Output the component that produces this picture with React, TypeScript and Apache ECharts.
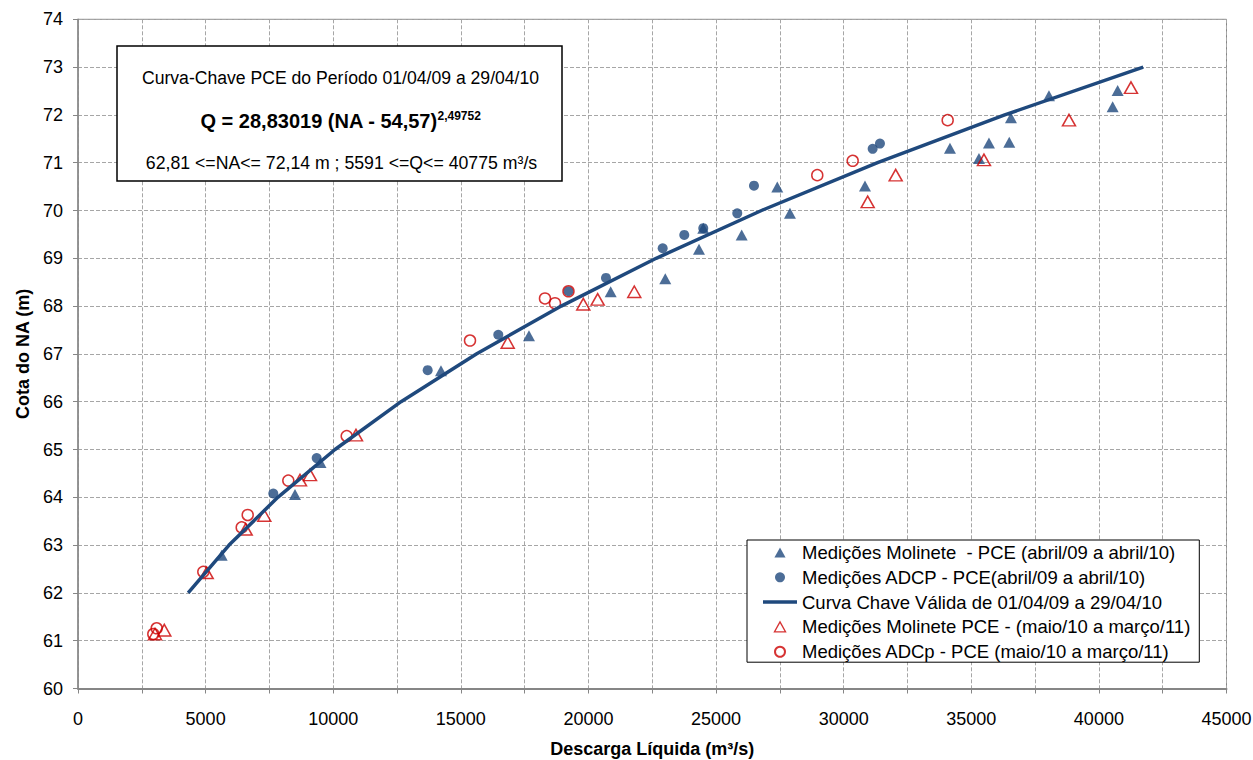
import React, { useEffect, useRef } from "react";
import * as echarts from "echarts";

const FONT = "'Liberation Sans', Arial, sans-serif";
const BLUE = "#1F497D";
const RED = "#CC0000";

// Medições Molinete - PCE (abril/09 a abril/10)
const molinete1Q = [5630, 8502, 9501, 14222, 17670, 20871, 23010, 24331, 24499, 26004, 27399, 27896, 30835, 34165, 35301, 35693, 36488, 36555, 38044, 40539, 40735];
const molinete1NA = [62.79, 64.06, 64.73, 66.65, 67.38, 68.3, 68.57, 69.19, 69.63, 69.49, 70.49, 69.94, 70.51, 71.3, 71.09, 71.41, 71.43, 71.94, 72.4, 72.17, 72.51];

// Medições ADCP - PCE (abril/09 a abril/10)
const adcp1Q = [7652, 9352, 13701, 16468, 19218, 20687, 22909, 23755, 24499, 25831, 26486, 31136, 31422];
const adcp1NA = [64.08, 64.82, 66.66, 67.4, 68.31, 68.59, 69.21, 69.49, 69.63, 69.94, 70.52, 71.29, 71.4];

// Medições Molinete PCE - (maio/10 a março/11)
const molinete2Q = [3017, 3381, 5042, 6570, 7299, 8698, 9090, 10892, 16836, 19798, 20362, 21796, 30941, 32038, 35497, 38828, 41257];
const molinete2NA = [61.14, 61.22, 62.42, 63.33, 63.62, 64.36, 64.47, 65.3, 67.24, 68.04, 68.14, 68.3, 70.18, 70.74, 71.06, 71.89, 72.57];

// Medições ADCp - PCE (maio/10 a março/11)
const adcp2Q = [2950, 3083, 4909, 6414, 6649, 8240, 10528, 15359, 18297, 18689, 19218, 28966, 30353, 34075];
const adcp2NA = [61.14, 61.26, 62.44, 63.37, 63.63, 64.35, 65.28, 67.28, 68.16, 68.06, 68.31, 70.74, 71.04, 71.89];

// Curva Chave Válida de 01/04/09 a 29/04/10
const curveNA = [62, 63, 64, 65, 66, 67, 68, 69, 70, 71, 72, 73];
const curveQ = [4316, 5919, 7829, 10070, 12657, 15607, 18934, 22654, 26781, 31328, 36310, 41737];

const L1 = "Medições Molinete  - PCE (abril/09 a abril/10)";
const L2 = "Medições ADCP - PCE(abril/09 a abril/10)";
const L3 = "Curva Chave Válida de 01/04/09 a 29/04/10";
const L4 = "Medições Molinete PCE - (maio/10 a março/11)";
const L5 = "Medições ADCp - PCE (maio/10 a março/11)";

const TRI_ICON = "path://M5,0L10,9L0,9Z";
const LINE_ICON = "path://M0,0H34V3.5H0Z";

const zip = (a: number[], b: number[]) => a.map((v, i) => [v, b[i]]);

export default function App() {
  const ref = useRef<HTMLDivElement>(null);
  useEffect(() => {
    const chart = echarts.init(ref.current!, null, { renderer: "svg" });
    const axisColor = "#868686";
    const gridLine = { show: true, lineStyle: { color: "#A6A6A6", width: 1, type: [4, 2] } };
    chart.setOption({
      animation: false,
      backgroundColor: "#fff",
      textStyle: { fontFamily: FONT },
      grid: {
        left: 78,
        right: 26.5,
        top: 19.3,
        bottom: 71.5,
        show: true,
        borderColor: axisColor,
        borderWidth: 1,
        containLabel: false,
        outerBoundsMode: "none",
      },
      xAxis: {
        type: "value",
        min: 0,
        max: 45000,
        interval: 2500,
        name: "Descarga Líquida (m³/s)",
        nameLocation: "middle",
        nameGap: 51,
        nameTextStyle: { fontSize: 18, fontWeight: "bold", color: "#000", fontFamily: FONT },
        axisLine: { lineStyle: { color: axisColor, width: 2 } },
        axisTick: { show: true, length: 5, lineStyle: { color: axisColor } },
        axisLabel: {
          fontSize: 18,
          color: "#000",
          margin: 21,
          fontFamily: FONT,
          formatter: (v: number) => (v % 5000 === 0 ? String(v) : ""),
        },
        splitLine: gridLine,
      },
      yAxis: {
        type: "value",
        min: 60,
        max: 74,
        interval: 1,
        name: "Cota do NA (m)",
        nameLocation: "middle",
        nameGap: 46,
        nameTextStyle: { fontSize: 18, fontWeight: "bold", color: "#000", fontFamily: FONT },
        axisLine: { show: true, lineStyle: { color: axisColor, width: 1.5 } },
        axisTick: { show: true, length: 5, lineStyle: { color: axisColor } },
        axisLabel: { fontSize: 18, color: "#000", margin: 15, fontFamily: FONT },
        splitLine: gridLine,
      },
      legend: {
        orient: "vertical",
        left: 747,
        top: 540,
        symbolKeepAspect: true,
        data: [
          { name: L1, icon: TRI_ICON, itemStyle: { color: BLUE } },
          { name: L2, icon: "circle" },
          { name: L3, icon: LINE_ICON, itemStyle: { color: BLUE, borderWidth: 0 } },
          { name: L4, icon: TRI_ICON, itemStyle: { color: "rgba(255,255,255,0)", borderColor: RED, borderWidth: 1.3 } },
          { name: L5, icon: "circle" },
        ],
        itemWidth: 34,
        itemHeight: 10,
        itemGap: 5.8,
        padding: [3, 9, 1, 16],
        borderColor: "#000",
        borderWidth: 1,
        backgroundColor: "#fff",
        selectedMode: false,
        textStyle: { fontSize: 18.5, lineHeight: 18, color: "#000", fontFamily: FONT },
      },
      graphic: [
        {
          type: "rect",
          shape: { x: 117, y: 46, width: 445, height: 135 },
          style: { fill: "#fff", stroke: "#000", lineWidth: 1.5 },
          z: 100,
        },
        {
          type: "text",
          x: 340.5,
          y: 78,
          z: 101,
          style: {
            text: "Curva-Chave PCE do Período 01/04/09 a 29/04/10",
            fill: "#000",
            font: `17.6px ${FONT}`,
            align: "center",
            verticalAlign: "middle",
            textAlign: "center",
            textVerticalAlign: "middle",
          },
        },
        {
          type: "text",
          x: 340.5,
          y: 120.5,
          z: 101,
          style: {
            text: "{m|Q = 28,83019 (NA - 54,57)}{s|2,49752}",
            fill: "#000",
            align: "center",
            verticalAlign: "middle",
            textAlign: "center",
            textVerticalAlign: "middle",
            rich: {
              m: { fontSize: 20, fontWeight: "bold", fontFamily: FONT, lineHeight: 22, fill: "#000" },
              s: { fontSize: 12, fontWeight: "bold", fontFamily: FONT, verticalAlign: "top", lineHeight: 12, fill: "#000" },
            },
          },
        },
        {
          type: "text",
          x: 341.5,
          y: 163,
          z: 101,
          style: {
            text: "62,81 <=NA<= 72,14 m ; 5591 <=Q<= 40775 m³/s",
            fill: "#000",
            font: `17.7px ${FONT}`,
            align: "center",
            verticalAlign: "middle",
            textAlign: "center",
            textVerticalAlign: "middle",
          },
        },
      ],
      series: [
        {
          name: L1,
          type: "scatter",
          symbol: "triangle",
          symbolSize: [12, 11],
          itemStyle: { color: BLUE },
          data: zip(molinete1Q, molinete1NA),
        },
        {
          name: L2,
          type: "scatter",
          symbol: "circle",
          symbolSize: 10,
          itemStyle: { color: BLUE },
          data: zip(adcp1Q, adcp1NA),
        },
        {
          name: L4,
          type: "scatter",
          symbol: "triangle",
          symbolSize: [13, 11.5],
          itemStyle: { color: "rgba(255,255,255,0)", borderColor: RED, borderWidth: 1.5 },
          data: zip(molinete2Q, molinete2NA),
        },
        {
          name: L5,
          type: "scatter",
          symbol: "circle",
          symbolSize: 11,
          itemStyle: { color: "rgba(255,255,255,0)", borderColor: RED, borderWidth: 1.5 },
          data: zip(adcp2Q, adcp2NA),
        },
        {
          name: L3,
          type: "line",
          symbol: "none",
          lineStyle: { color: BLUE, width: 3.5 },
          itemStyle: { color: BLUE },
          data: zip(curveQ, curveNA),
        },
      ],
    });
    return () => chart.dispose();
  }, []);
  return <div ref={ref} style={{ position: "fixed", left: 0, top: 0, width: 1253, height: 760 }} />;
}
